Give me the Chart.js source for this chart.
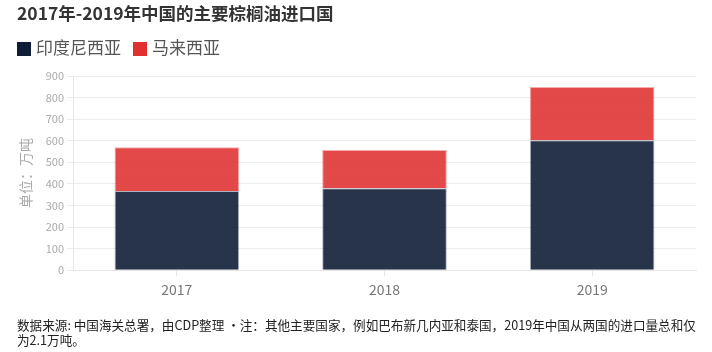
<!DOCTYPE html>
<html>
<head>
<meta charset="utf-8">
<script src="https://cdn.jsdelivr.net/npm/chart.js@4/dist/chart.umd.min.js"></script>
<style>
  html, body { margin: 0; padding: 0; background: #fff; }
  #wrap { position: relative; width: 712px; height: 352px; }
  #legend {
    position: absolute; left: 17px; top: 35px;
    font-family: "Noto Sans CJK SC", "Noto Sans", sans-serif;
    font-size: 17px; line-height: 23px; color: #555;
  }
  #legend span.box { display: inline-block; width: 14px; height: 14px; vertical-align: -2px; margin-right: 5px; }
  #legend span.item { margin-right: 12px; }
  #note {
    position: absolute; left: 17px; top: 317px; width: 695px;
    font-family: "Noto Sans CJK SC", "Noto Sans", sans-serif;
    font-size: 12.6px; line-height: 15px; color: #222; white-space: nowrap;
  }
</style>
</head>
<body>
<div id="wrap">
  <canvas id="chart" width="712" height="352"></canvas>
  <div id="legend"></div>
  <div id="note">数据来源: 中国海关总署，由CDP整理 •注：其他主要国家，例如巴布新几内亚和泰国，2019年中国从两国的进口量总和仅<br>为2.1万吨。</div>
</div>
<script>
var years = ["2017", "2018", "2019"];
var seriesNames = ["印度尼西亚", "马来西亚"];
var indonesia = [367, 380, 602];
var malaysia = [203, 177, 247];
var yTicks = [0, 100, 200, 300, 400, 500, 600, 700, 800, 900];
var legendColors = ['#0f1e36', '#e03030'];

var font = "'Noto Sans CJK SC', 'Noto Sans', sans-serif";

// legend in html so it sits at the left margin
var leg = document.getElementById("legend");
seriesNames.forEach(function (name, i) {
    leg.innerHTML += '<span class="item"><span class="box" style="background:' + legendColors[i] + '"></span>' + name + '</span>';
});

var ctx = document.getElementById("chart").getContext("2d");
var grafico = new Chart(ctx, {
    type: 'bar',
    data: {
        labels: years,
        datasets: [
            { label: seriesNames[0], data: indonesia, backgroundColor: 'rgba(15,30,54,0.9)', borderColor: 'rgba(120,130,150,0.6)', borderWidth: 1 },
            { label: seriesNames[1], data: malaysia, backgroundColor: 'rgba(224,48,48,0.88)', borderColor: 'rgba(240,150,150,0.8)', borderWidth: 1 }
        ]
    },
    options: {
        responsive: false,
        animation: false,
        layout: { padding: { left: 17, right: 16, top: 0, bottom: 49 } },
        datasets: { bar: { barPercentage: 0.6, categoryPercentage: 1 } },
        plugins: {
            title: {
                display: true, text: "2017年-2019年中国的主要棕榈油进口国", align: 'start',
                color: '#333', font: { family: font, size: 17.5, weight: 'bold' },
                padding: { top: 3, bottom: 52 }
            },
            legend: { display: false },
            tooltip: { enabled: false }
        },
        scales: {
            x: {
                stacked: true,
                grid: { offset: false, drawOnChartArea: false, tickLength: 6, color: '#e6e6e6' },
                border: { color: '#e6e6e6' },
                ticks: { color: '#777', padding: 5, font: { family: font, size: 14 } }
            },
            y: {
                stacked: true, min: 0, max: 900,
                afterBuildTicks: function (axis) { axis.ticks = yTicks.map(function (v) { return { value: v }; }); },
                afterFit: function (axis) { axis.width = 56; },
                grid: { color: '#ececec', tickLength: 6 },
                border: { color: '#e6e6e6' },
                ticks: { color: '#aaa', padding: 3, font: { family: font, size: 11 } },
                title: { display: true, text: "单位：万吨", color: '#aaa', font: { family: font, size: 14 }, padding: { top: 0, bottom: 0 } }
            }
        }
    }
});
</script>
</body>
</html>
